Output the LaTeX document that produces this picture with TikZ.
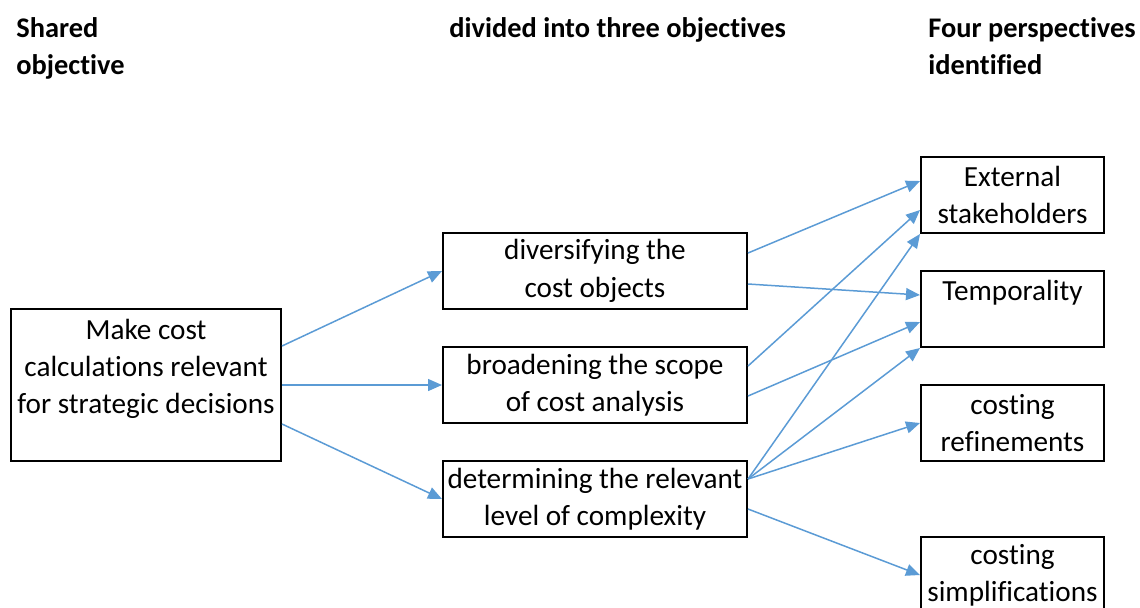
\documentclass[tikz,border=0pt]{standalone}
\usepackage{fontspec}
\setmainfont{Carlito}[Ligatures=NoCommon]
\usetikzlibrary{arrows.meta}
\definecolor{linkblue}{RGB}{91,155,213}

\begin{document}
\begin{tikzpicture}[x=0.5pt,y=-0.5pt,node distance=57pt,
		font=\fontsize{14.6}{18.7}\selectfont,
		box/.style={draw,line width=1pt,align=center,inner sep=1pt},
		goal box/.style={box,minimum width=135pt,minimum height=76pt},
		aim box/.style={box,minimum width=152pt,minimum height=38pt},
		view box/.style={box,minimum width=91.5pt,minimum height=38pt},
		head/.style={font=\fontsize{14.2}{18.7}\selectfont\bfseries,align=left,anchor=north west,inner sep=0pt},
		link/.style={-{Triangle[length=7pt,width=6pt]},color=linkblue,line width=0.75pt}]
		\useasboundingbox (0,0) rectangle (1140,607);
		% titles
		\node[head] (h1) at (16,17) {Shared\\objective};
		\node[head] (h2) at (449,17) {divided into three objectives};
		\node[head] (h3) at (928,17) {Four perspectives\\identified};
		
		% shared objective
		\node[goal box] (l) at (146,385) {Make cost\\calculations relevant\\for strategic decisions\\~};
		
		% three objectives
		\node[aim box] (m2) [right of= l, node distance=224.5pt] {broadening the scope\\of cost analysis};
		\node[aim box] (m1) [above of= m2] {diversifying the\\cost objects};
		\node[aim box] (m3) [below of= m2] {determining the relevant\\level of complexity};
		
		% four perspectives
		\node[view box] (r1) at (1012.5,195) {External\\stakeholders};
		\node[view box] (r2) [below of= r1] {Temporality\\~};
		\node[view box] (r3) [below of= r2] {costing\\refinements};
		\node[view box] (r4) [below of= r3, node distance=76pt] {costing\\simplifications};
		
		\path[link]
		([yshift=19.5pt]l.east) edge (m1.west)
		(l.east) edge (m2.west)
		([yshift=-19.5pt]l.east) edge (m3.west)
		
		([yshift=9pt]m1.east) edge ([yshift=7pt]r1.west)
		([yshift=-6.5pt]m1.east) edge ([yshift=7pt]r2.west)
		([yshift=9.5pt]m2.east) edge ([yshift=-7.5pt]r1.west)
		([yshift=-5.5pt]m2.east) edge ([yshift=-6.5pt]r2.west)
		
		([yshift=10pt]m3.east) edge (r1.south west)
		([yshift=10pt]m3.east) edge (r2.south west)
		([yshift=10pt]m3.east) edge (r3.west)
		([yshift=-5pt]m3.east) edge (r4.west);
		
\end{tikzpicture}
\end{document}
